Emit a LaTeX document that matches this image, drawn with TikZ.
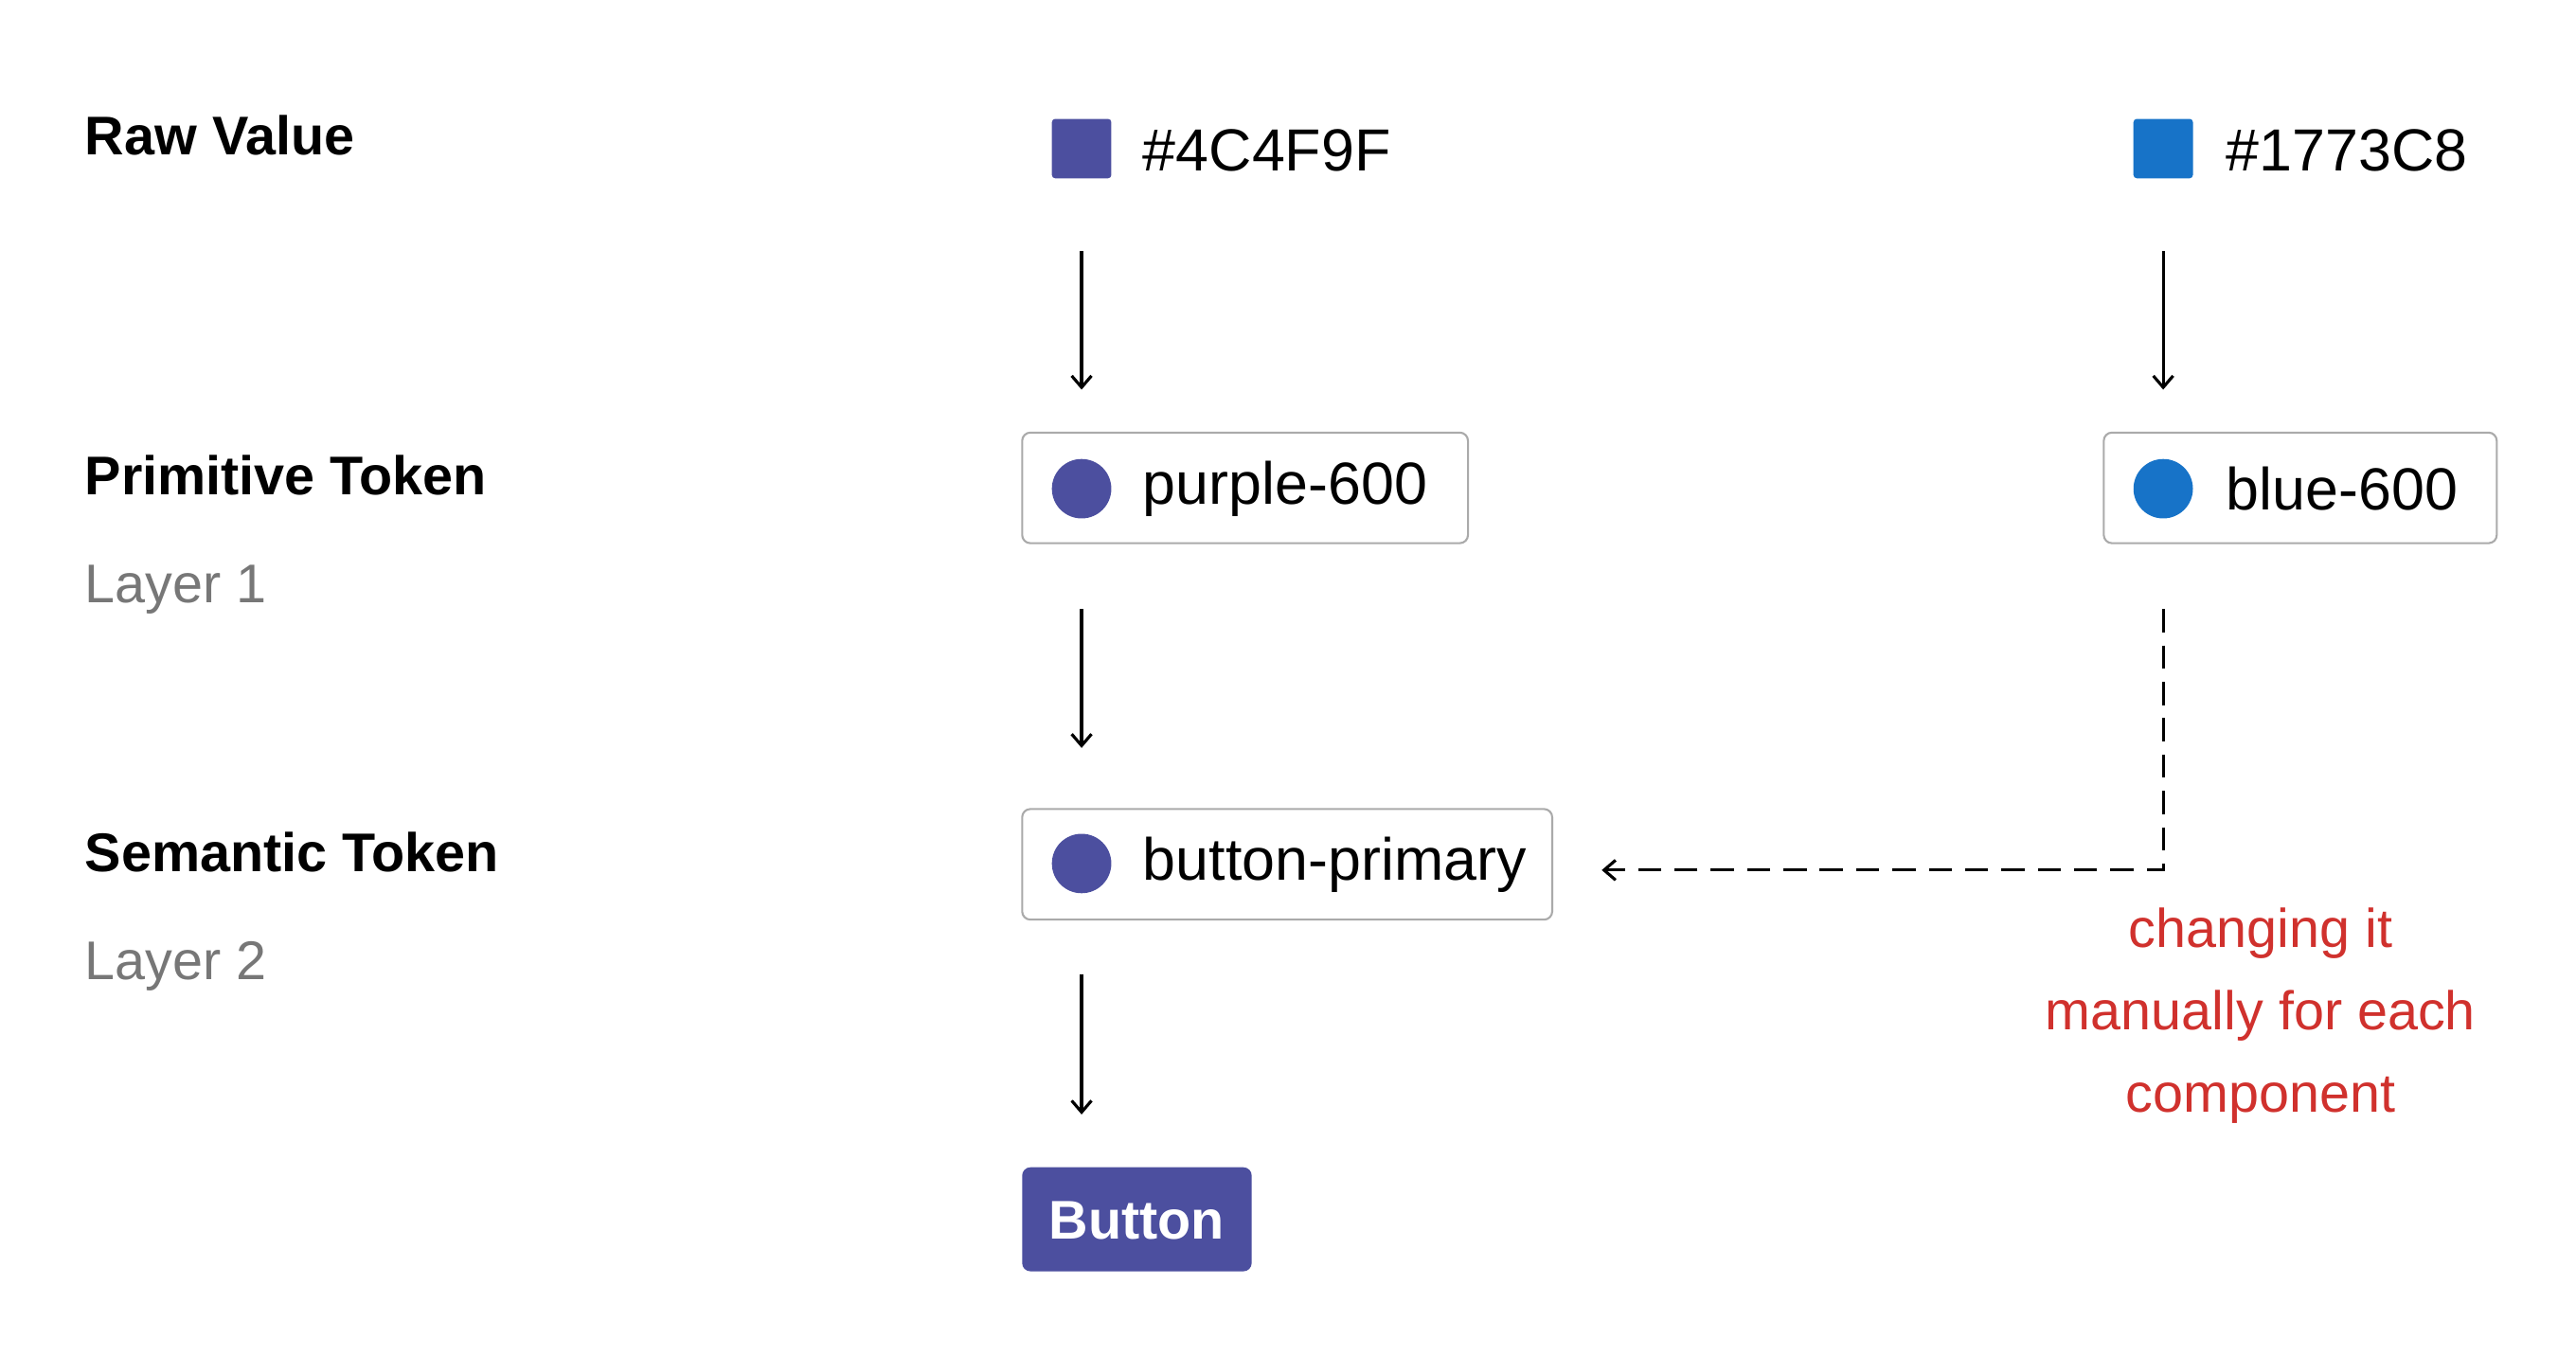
\documentclass[tikz,border=0pt]{standalone}
\usetikzlibrary{arrows.meta}
\usepackage{fontspec}
\setmainfont{Liberation Sans}
\definecolor{pur}{HTML}{4C4F9F}
\definecolor{blu}{HTML}{1773C8}
\definecolor{redt}{HTML}{D0312D}
\definecolor{grayt}{HTML}{777777}
\definecolor{bord}{HTML}{AAAAAA}
\begin{document}
\begin{tikzpicture}[x=1pt,y=-1pt,
  lab/.style={anchor=west,font=\fontsize{33}{38}\selectfont\bfseries},
  sub/.style={anchor=west,text=grayt,font=\fontsize{33}{38}\selectfont},
  txt/.style={anchor=west,font=\fontsize{36}{40}\selectfont,inner sep=0},
  tok/.style={draw=bord,line width=1.2pt,rounded corners=5pt},
  arr/.style={-{Straight Barb[length=7pt,width=12pt]},line width=1.8pt},
  sq/.style={minimum size=36pt,inner sep=0,rounded corners=2pt}]
\useasboundingbox (0,0) rectangle (1560,821);
\node[lab] (l1) at (48,82) {Raw Value};
\node[lab] (l2) at (48,288) {Primitive Token};
\node[sub] (s1) at (48,357) {Layer 1};
\node[lab] (l3) at (48,516) {Semantic Token};
\node[sub] (s2) at (48,585) {Layer 2};
% raw values
\node[sq,fill=pur] (sq1) at (655,90) {};
\node[txt] (h1) at (692,91) {\#4C4F9F};
\node[sq,fill=blu] (sq2) at (1310,90) {};
\node[txt] (h2) at (1348,91) {\#1773C8};
% tokens
\draw[tok] (619,262) rectangle (889,329);
\fill[pur] (655,296) circle (18);
\node[txt] (p6) at (692,296) {purple-600};
\draw[tok] (1274,262) rectangle (1512,329);
\fill[blu] (1310,296) circle (18);
\node[txt] (b6) at (1348,296) {blue-600};
\draw[tok] (619,490) rectangle (940,557);
\fill[pur] (655,523) circle (18);
\node[txt] (bp) at (692,524) {button-primary};
\fill[pur,rounded corners=5pt] (619,707) rectangle (758,770);
\node[txt,text=white,anchor=center,font=\fontsize{33}{38}\selectfont\bfseries] (btn) at (688.5,739) {Button};
% arrows
\coordinate (a1) at (655,152); \coordinate (a1e) at (655,236);
\coordinate (a2) at (1310,152); \coordinate (a2e) at (1310,236);
\coordinate (a3) at (655,369); \coordinate (a3e) at (655,453);
\coordinate (a4) at (655,590); \coordinate (a4e) at (655,675);
\draw[arr] (a1) -- (a1e);
\draw[arr] (a2) -- (a2e);
\draw[arr] (a3) -- (a3e);
\draw[arr] (a4) -- (a4e);
\coordinate (d1) at (1310,369); \coordinate (d2) at (970,527);
\draw[arr,dash pattern=on 14pt off 8pt] (d1) |- (d2);
\node[align=center,text=redt,font=\fontsize{33}{50}\selectfont] (note) at (1369,615) {changing it\\manually for each\\component};
\end{tikzpicture}
\end{document}
